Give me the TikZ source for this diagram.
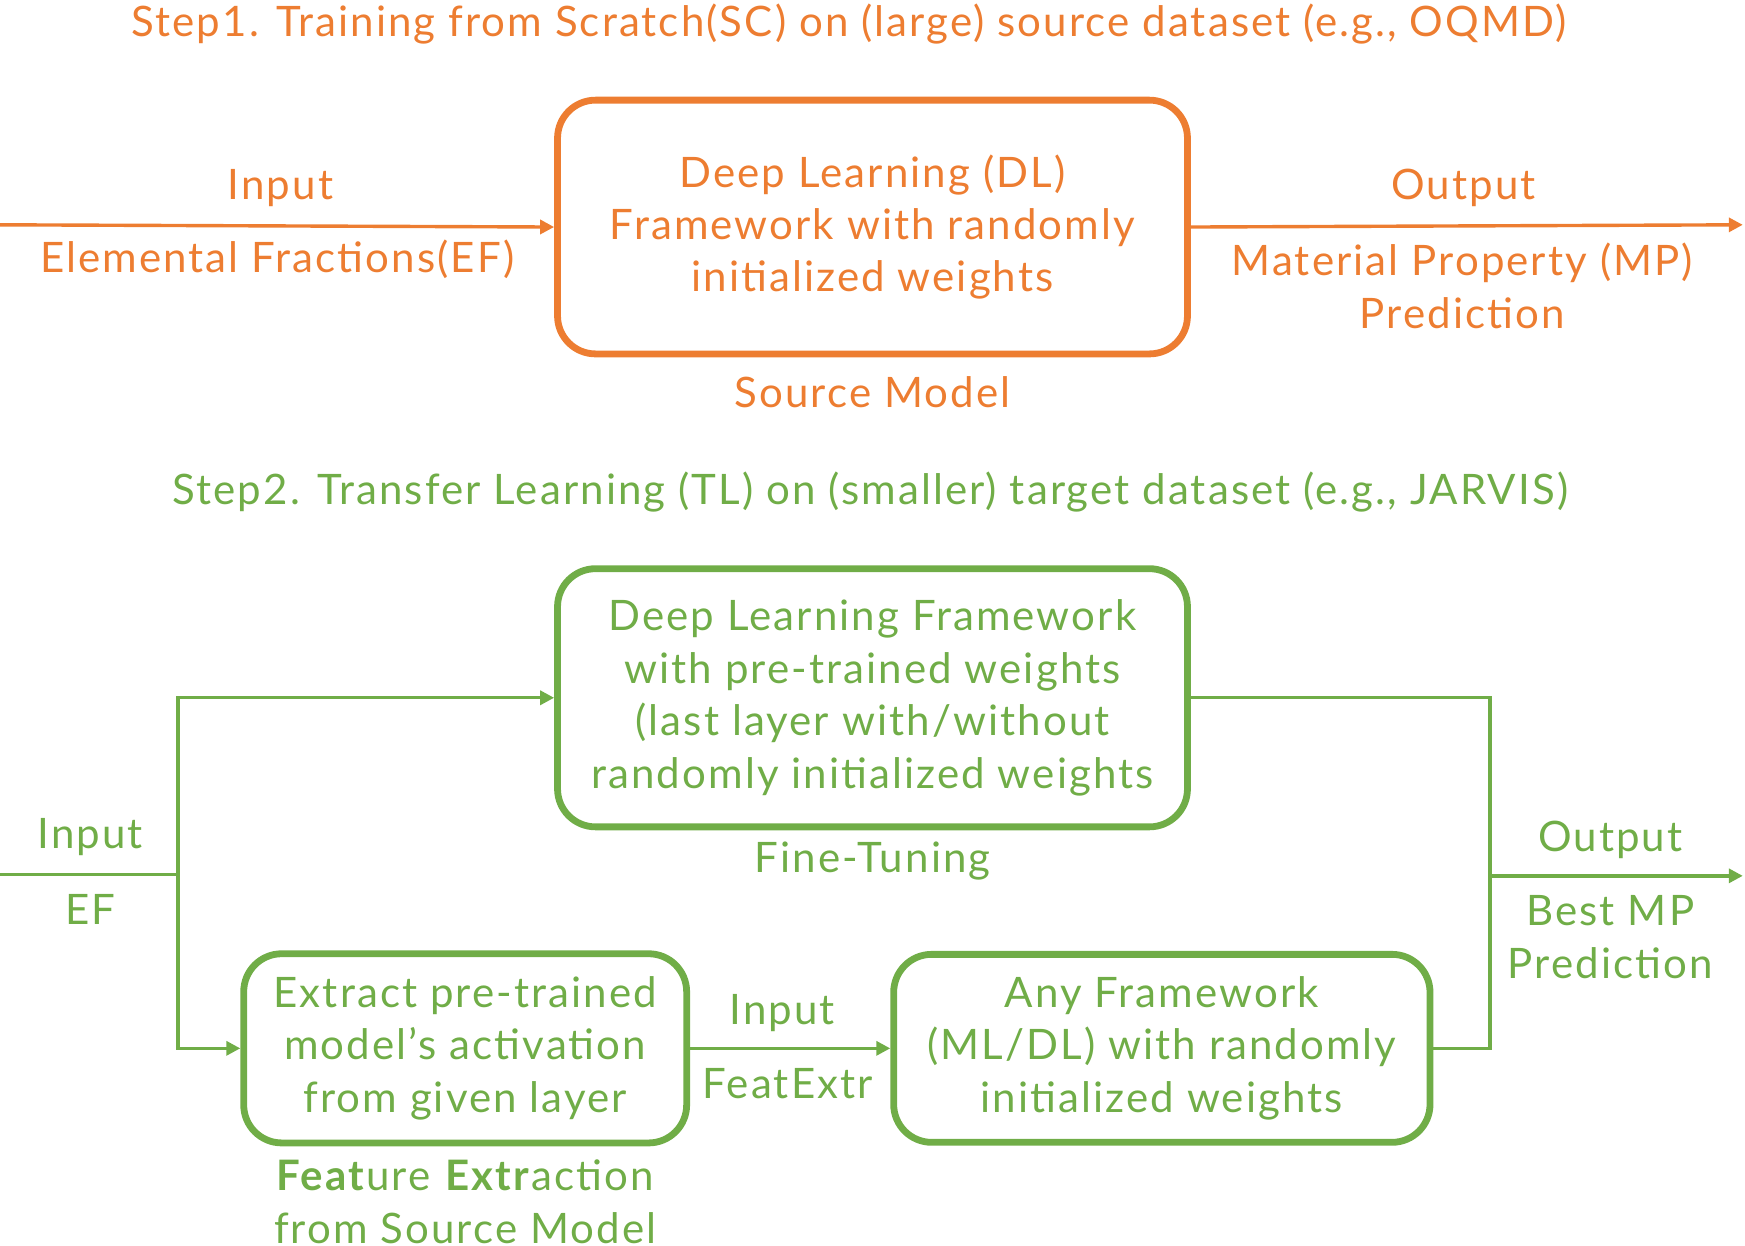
\documentclass[tikz,border=0pt]{standalone}
\usepackage{fontspec}
\setmainfont{Lato}[LetterSpace=5]
\usetikzlibrary{arrows.meta}
\definecolor{org}{HTML}{ED7D31}
\definecolor{grn}{HTML}{70AD47}
\begin{document}
\begin{tikzpicture}[x=0.5565pt,y=-0.5565pt,
  txt/.style={font=\fontsize{21}{26.2}\selectfont, inner sep=0pt, align=center},
  box/.style={draw, line width=3.4pt, rounded corners=19pt, align=center, inner sep=0pt, font=\fontsize{21}{26.2}\selectfont},
  conn/.style={line width=1.7pt},
  arr/.style={conn, -{Triangle[length=7pt,width=7pt]}}]
\useasboundingbox (0,0) rectangle (1568,1119);
% ---------- Step 1 ----------
\node[txt, text=org] (t1) at (763,22) {Step1. Training from Scratch(SC) on (large) source dataset (e.g., OQMD)};
\node[box, draw=org, text=org, minimum width=315pt, minimum height=126.9pt] (b1) at (784,204)
  {Deep Learning (DL)\\Framework with randomly\\initialized weights};
\coordinate (in1) at (0,202);
\coordinate (out1) at (1566,202);
\draw[arr, draw=org, color=org] (in1) -- (b1.west);
\draw[arr, draw=org, color=org] (b1.east) -- (out1);
\node[txt, text=org] (l1a) at (252,169) {Input};
\node[txt, text=org] (l1b) at (249,233) {Elemental Fractions(EF)};
\node[txt, text=org] (l1c) at (1315,169) {Output};
\node[txt, text=org] (l1d) at (1314,257) {Material Property (MP)\\Prediction};
\node[txt, text=org] (l1e) at (784,352) {Source Model};
% ---------- Step 2 ----------
\node[txt, text=grn] (t2) at (782,442) {Step2. Transfer Learning (TL) on (smaller) target dataset (e.g., JARVIS)};
\node[box, draw=grn, text=grn, minimum width=315pt, minimum height=129.1pt] (b2) at (784,627)
  {Deep Learning Framework\\with pre-trained weights\\(last layer with/without\\randomly initialized weights};
\node[box, draw=grn, text=grn, minimum width=221.5pt, minimum height=94.6pt] (b3) at (418,942)
  {Extract pre-trained\\model’s activation\\from given layer};
\node[box, draw=grn, text=grn, minimum width=268.2pt, minimum height=94pt] (b4) at (1044,942)
  {Any Framework\\(ML/DL) with randomly\\initialized weights};
\coordinate (in2) at (0,786);
\coordinate (split) at (160,786);
\coordinate (merge) at (1339,787);
\coordinate (out2) at (1566,787);
\draw[conn, draw=grn] (in2) -- (split);
\draw[arr, draw=grn, color=grn] (split) |- (b2.west);
\draw[arr, draw=grn, color=grn] (split) |- (b3.west);
\draw[arr, draw=grn, color=grn] (b3.east) -- (b4.west);
\draw[conn, draw=grn] (b2.east) -| (merge);
\draw[conn, draw=grn] (b4.east) -| (merge);
\draw[arr, draw=grn, color=grn] (merge) -- (out2);
\node[txt, text=grn] (l2a) at (81,752) {Input};
\node[txt, text=grn] (l2b) at (81,817) {EF};
\node[txt, text=grn] (l2c) at (784,774) {Fine-Tuning};
\node[txt, text=grn] (l2d) at (703,910) {Input};
\node[txt, text=grn] (l2e) at (708,974) {FeatExtr};
\node[txt, text=grn] (l2f) at (1447,755) {Output};
\node[txt, text=grn] (l2g) at (1447,842) {Best MP\\Prediction};
\node[txt, text=grn] (l2h) at (418,1080) {\textbf{Feat}ure \textbf{Extr}action\\from Source Model};
\end{tikzpicture}
\end{document}
